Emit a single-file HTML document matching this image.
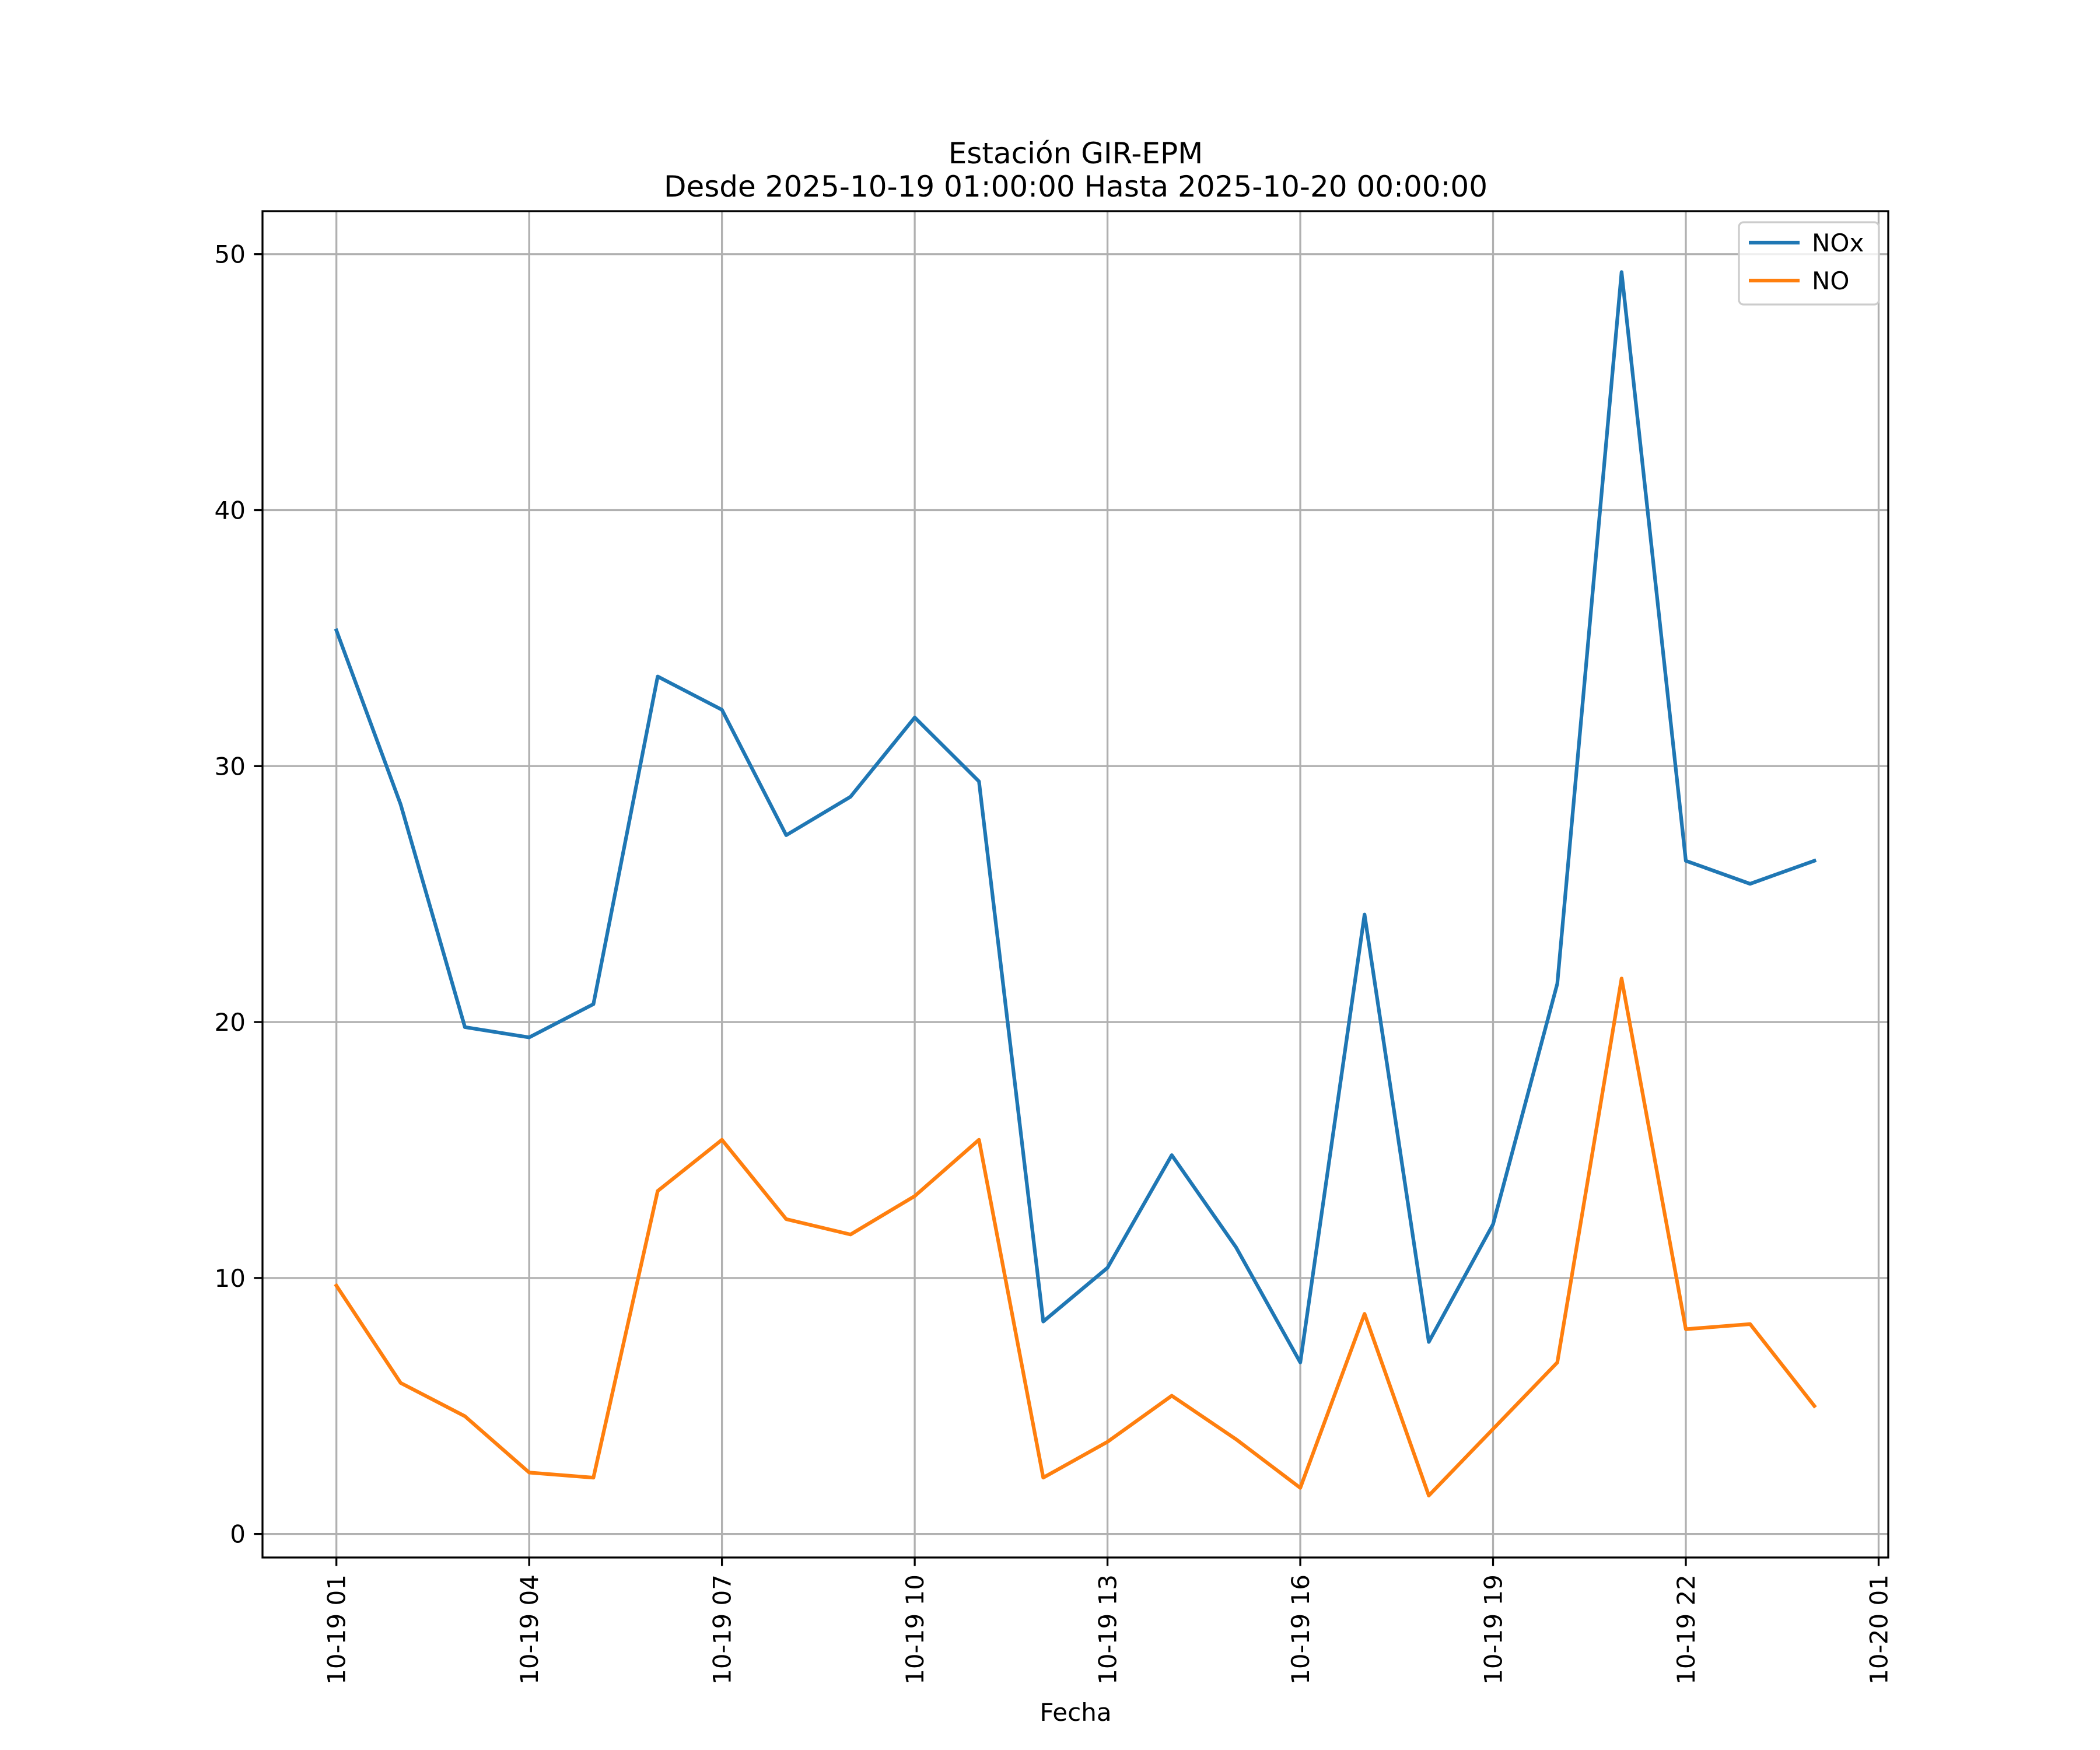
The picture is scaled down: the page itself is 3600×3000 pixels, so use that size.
<!DOCTYPE html>
<html><head><meta charset="utf-8"><style>html,body{margin:0;padding:0;background:#fff}svg{display:block}text{font-family:"DejaVu Sans","Liberation Sans",sans-serif;fill:#000}</style></head>
<body>
<svg id="chart" width="3600" height="3000" viewBox="0 0 3600 3000" xmlns="http://www.w3.org/2000/svg">
<rect width="3600" height="3000" fill="#fff"/>
<g id="grid"></g>
<g id="series"></g>
<rect x="450" y="362" width="2787" height="2308" fill="none" stroke="#000" stroke-width="3.3"/>
<g id="axes"></g>
<text x="1844" y="280" font-size="50" text-anchor="middle">Estación GIR-EPM</text>
<text x="1844" y="337" font-size="50" text-anchor="middle">Desde 2025-10-19 01:00:00 Hasta 2025-10-20 00:00:00</text>
<text x="1844" y="2950" font-size="42" text-anchor="middle">Fecha</text>
<g>
<rect x="2981" y="381" width="240" height="141" fill="#fff" fill-opacity="0.8" stroke="#ccc" stroke-width="3.3" rx="8"/>
<line x1="2998" y1="416" x2="3085" y2="416" stroke="#1f77b4" stroke-width="6.25"/>
<text x="3106" y="431" font-size="42">NOx</text>
<line x1="2998" y1="481" x2="3085" y2="481" stroke="#ff7f0e" stroke-width="6.25"/>
<text x="3106" y="496" font-size="42">NO</text>
</g>
</svg>
<script>
const hours = [1,2,3,4,5,6,7,8,9,10,11,12,13,14,15,16,17,18,19,20,21,22,23,24];
const noxValues = [35.3,28.5,19.8,19.4,20.7,33.5,32.2,27.3,28.8,31.9,29.4,8.3,10.4,14.8,11.2,6.7,24.2,7.5,12.1,21.5,49.3,26.3,25.4,26.3];
const noValues = [9.7,5.9,4.6,2.4,2.2,13.4,15.4,12.3,11.7,13.2,15.4,2.2,3.6,5.4,3.7,1.8,8.6,1.5,4.1,6.7,21.7,8.0,8.2,5.0];
const xTickHours = [1,4,7,10,13,16,19,22,25];
const xTickLabels = ["10-19 01","10-19 04","10-19 07","10-19 10","10-19 13","10-19 16","10-19 19","10-19 22","10-20 01"];
const yTicks = [0,10,20,30,40,50];

const L=450,R=3237,T=362,B=2670;
const x0=-0.15, x1=25.15;
const y0=-0.92, y1=51.68;
const X=h=>L+(h-x0)/(x1-x0)*(R-L);
const Y=v=>B-(v-y0)/(y1-y0)*(B-T);
const NS="http://www.w3.org/2000/svg";
function mk(tag,attrs,parent){const e=document.createElementNS(NS,tag);for(const k in attrs)e.setAttribute(k,attrs[k]);parent.appendChild(e);return e;}
const grid=document.getElementById('grid'),axes=document.getElementById('axes'),series=document.getElementById('series');
xTickHours.forEach((h,i)=>{
  const x=X(h);
  const g=mk('line',{x1:x,x2:x,y1:T,y2:B,stroke:'#b0b0b0','stroke-width':3.3},grid);
  
  
  const t=mk('line',{x1:x,x2:x,y1:B,y2:B+14.6,stroke:'#000','stroke-width':3.3},axes);
  
  
  const tx=mk('text',{x:0,y:0,'font-size':42,'text-anchor':'end',transform:`translate(${x+15},${B+29}) rotate(-90)`},axes);
  tx.textContent=xTickLabels[i];
  
  
});
yTicks.forEach(v=>{
  const y=Y(v);
  const g=mk('line',{x1:L,x2:R,y1:y,y2:y,stroke:'#b0b0b0','stroke-width':3.3},grid);
  
  
  const t=mk('line',{x1:L-14.6,x2:L,y1:y,y2:y,stroke:'#000','stroke-width':3.3},axes);
  
  
  const tx=mk('text',{x:L-29,y:y+15,'font-size':42,'text-anchor':'end'},axes);
  tx.textContent=String(v);
  
  
});
function line(vals,color,name){
  const p=mk('polyline',{points:vals.map((v,i)=>X(hours[i])+','+Y(v)).join(' '),fill:'none',stroke:color,'stroke-width':6.25,'stroke-linejoin':'round','stroke-linecap':'square'},series);
  
  
}
line(noxValues,'#1f77b4','nox-line');
line(noValues,'#ff7f0e','no-line');
</script>
</body></html>
